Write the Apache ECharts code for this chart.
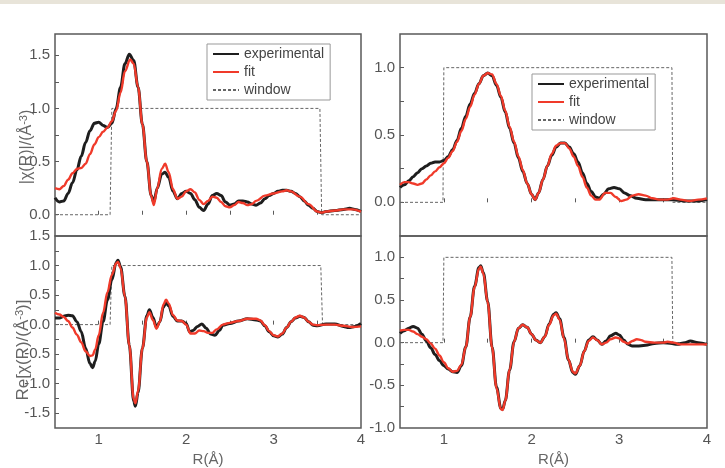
<!DOCTYPE html>
<html>
<head>
<meta charset="utf-8">
<script src="https://cdn.jsdelivr.net/npm/echarts@6/dist/echarts.min.js"></script>
<style>html,body{margin:0;padding:0;background:#fff;}#c{width:725px;height:468px;}</style>
</head>
<body>
<div id="c"></div>
<script>
// ---- Data (R in Å) ----
const xTickLabels = [1, 2, 3, 4];
const xTicks = [1, 1.5, 2, 2.5, 3, 3.5];
const legendNames = ['experimental', 'fit', 'window'];

// Top-left |χ(R)|
const tlExp = [[0.5,0.16],[0.55,0.12],[0.6,0.13],[0.65,0.2],[0.7,0.3],[0.75,0.42],[0.8,0.55],[0.85,0.68],[0.9,0.79],[0.95,0.86],[1.0,0.87],[1.05,0.84],[1.1,0.82],[1.15,0.86],[1.2,1.0],[1.25,1.2],[1.3,1.42],[1.35,1.51],[1.4,1.45],[1.45,1.2],[1.5,0.85],[1.55,0.5],[1.6,0.18],[1.63,0.12],[1.67,0.25],[1.72,0.38],[1.76,0.4],[1.8,0.35],[1.85,0.22],[1.9,0.15],[1.95,0.2],[2.0,0.22],[2.05,0.2],[2.1,0.14],[2.15,0.07],[2.2,0.04],[2.25,0.1],[2.3,0.18],[2.35,0.2],[2.4,0.18],[2.45,0.12],[2.5,0.09],[2.55,0.1],[2.6,0.13],[2.65,0.13],[2.7,0.12],[2.75,0.1],[2.8,0.09],[2.85,0.11],[2.9,0.15],[2.95,0.18],[3.0,0.2],[3.05,0.22],[3.1,0.23],[3.15,0.23],[3.2,0.22],[3.25,0.2],[3.3,0.17],[3.35,0.13],[3.4,0.09],[3.45,0.06],[3.5,0.03],[3.55,0.02],[3.6,0.03],[3.7,0.04],[3.8,0.05],[3.87,0.06],[3.93,0.05],[4.0,0.03]];
const tlFit = [[0.5,0.25],[0.55,0.24],[0.6,0.27],[0.65,0.33],[0.7,0.39],[0.75,0.43],[0.8,0.44],[0.85,0.48],[0.9,0.57],[0.95,0.66],[1.0,0.73],[1.05,0.78],[1.1,0.82],[1.15,0.88],[1.2,0.98],[1.25,1.15],[1.3,1.35],[1.36,1.46],[1.4,1.42],[1.45,1.2],[1.5,0.85],[1.55,0.5],[1.6,0.18],[1.63,0.09],[1.67,0.25],[1.72,0.43],[1.76,0.48],[1.8,0.4],[1.85,0.24],[1.9,0.15],[1.95,0.17],[2.0,0.22],[2.05,0.24],[2.1,0.21],[2.15,0.14],[2.2,0.1],[2.25,0.13],[2.3,0.17],[2.35,0.16],[2.4,0.12],[2.45,0.08],[2.5,0.07],[2.55,0.09],[2.6,0.12],[2.65,0.11],[2.7,0.09],[2.75,0.1],[2.8,0.13],[2.9,0.18],[3.0,0.2],[3.1,0.22],[3.15,0.23],[3.2,0.22],[3.3,0.17],[3.4,0.1],[3.5,0.03],[3.55,0.02],[3.6,0.03],[3.7,0.04],[3.8,0.05],[3.9,0.05],[4.0,0.03]];
const tlWin = [[0.5,0],[1.13,0],[1.15,1],[3.53,1],[3.55,0],[4.0,0]];

// Top-right |χ(R)|
const trExp = [[0.5,0.11],[0.55,0.13],[0.6,0.16],[0.65,0.19],[0.7,0.22],[0.75,0.25],[0.8,0.27],[0.85,0.29],[0.9,0.3],[0.95,0.3],[1.0,0.31],[1.05,0.34],[1.1,0.39],[1.15,0.46],[1.2,0.55],[1.25,0.64],[1.3,0.73],[1.35,0.81],[1.4,0.88],[1.45,0.94],[1.5,0.96],[1.55,0.94],[1.6,0.87],[1.65,0.78],[1.7,0.67],[1.75,0.55],[1.8,0.44],[1.85,0.33],[1.9,0.23],[1.95,0.14],[2.0,0.06],[2.04,0.02],[2.08,0.07],[2.13,0.17],[2.18,0.27],[2.23,0.35],[2.28,0.41],[2.33,0.44],[2.38,0.44],[2.43,0.41],[2.48,0.36],[2.53,0.3],[2.58,0.22],[2.63,0.14],[2.68,0.08],[2.73,0.04],[2.77,0.03],[2.82,0.06],[2.88,0.1],[2.94,0.11],[3.0,0.1],[3.06,0.07],[3.12,0.05],[3.2,0.03],[3.3,0.02],[3.45,0.02],[3.6,0.02],[3.75,0.01],[3.9,0.01],[4.0,0.02]];
const trFit = [[0.5,0.13],[0.55,0.15],[0.6,0.15],[0.65,0.14],[0.7,0.13],[0.75,0.14],[0.8,0.17],[0.85,0.2],[0.9,0.23],[0.95,0.26],[1.0,0.29],[1.05,0.33],[1.1,0.38],[1.15,0.45],[1.2,0.53],[1.25,0.62],[1.3,0.71],[1.35,0.8],[1.4,0.88],[1.45,0.94],[1.5,0.96],[1.55,0.95],[1.6,0.88],[1.65,0.79],[1.7,0.68],[1.75,0.56],[1.8,0.45],[1.85,0.34],[1.9,0.24],[1.95,0.14],[2.0,0.06],[2.04,0.02],[2.08,0.07],[2.13,0.17],[2.18,0.27],[2.23,0.36],[2.28,0.42],[2.33,0.44],[2.38,0.44],[2.43,0.4],[2.48,0.34],[2.53,0.27],[2.58,0.19],[2.63,0.11],[2.68,0.05],[2.73,0.02],[2.77,0.02],[2.84,0.07],[2.9,0.07],[2.96,0.04],[3.02,0.01],[3.08,0.02],[3.15,0.05],[3.22,0.06],[3.3,0.05],[3.38,0.03],[3.45,0.02],[3.55,0.02],[3.62,0.03],[3.7,0.02],[3.8,0.01],[3.9,0.02],[4.0,0.03]];
const trWin = [[0.5,0],[0.99,0],[1.0,1],[3.6,1],[3.61,0],[4.0,0]];

// Bottom-left Re[χ(R)]
const blExp = [[0.5,0.11],[0.55,0.11],[0.6,0.14],[0.65,0.16],[0.7,0.15],[0.75,0.05],[0.8,-0.12],[0.85,-0.4],[0.9,-0.66],[0.93,-0.73],[0.96,-0.62],[1.0,-0.33],[1.05,0.05],[1.1,0.42],[1.15,0.76],[1.2,1.05],[1.22,1.09],[1.25,0.98],[1.3,0.48],[1.35,-0.35],[1.4,-1.3],[1.42,-1.38],[1.45,-1.15],[1.5,-0.4],[1.55,0.15],[1.58,0.25],[1.62,0.12],[1.66,-0.04],[1.7,0.05],[1.74,0.3],[1.77,0.37],[1.8,0.32],[1.85,0.14],[1.9,0.06],[1.95,0.06],[2.0,0.02],[2.04,-0.12],[2.08,-0.1],[2.13,-0.03],[2.18,0.01],[2.23,-0.06],[2.28,-0.16],[2.33,-0.18],[2.38,-0.1],[2.42,-0.01],[2.5,0.02],[2.6,0.06],[2.7,0.1],[2.8,0.08],[2.85,0.06],[2.9,-0.02],[2.95,-0.12],[3.0,-0.19],[3.05,-0.21],[3.1,-0.16],[3.15,-0.05],[3.2,0.05],[3.25,0.11],[3.3,0.14],[3.35,0.12],[3.4,0.05],[3.45,-0.01],[3.5,-0.02],[3.6,0.01],[3.7,0.01],[3.8,-0.03],[3.86,-0.05],[3.93,-0.03],[4.0,0.02]];
const blFit = [[0.5,0.2],[0.55,0.17],[0.6,0.13],[0.65,0.06],[0.7,-0.05],[0.75,-0.17],[0.8,-0.3],[0.85,-0.45],[0.9,-0.53],[0.93,-0.52],[0.96,-0.42],[1.0,-0.18],[1.05,0.2],[1.1,0.55],[1.15,0.84],[1.2,1.04],[1.22,1.06],[1.25,0.96],[1.3,0.47],[1.35,-0.35],[1.4,-1.26],[1.42,-1.33],[1.45,-1.12],[1.5,-0.4],[1.55,0.12],[1.58,0.21],[1.62,0.08],[1.66,-0.07],[1.7,0.05],[1.74,0.34],[1.77,0.42],[1.8,0.36],[1.85,0.16],[1.9,0.07],[1.95,0.06],[2.0,0.0],[2.05,-0.15],[2.1,-0.15],[2.15,-0.1],[2.2,-0.11],[2.25,-0.14],[2.3,-0.14],[2.35,-0.08],[2.42,0.0],[2.5,0.03],[2.6,0.06],[2.7,0.1],[2.8,0.1],[2.85,0.07],[2.9,-0.01],[2.95,-0.11],[3.0,-0.18],[3.05,-0.2],[3.1,-0.15],[3.15,-0.05],[3.2,0.05],[3.25,0.12],[3.3,0.15],[3.35,0.12],[3.4,0.05],[3.45,0.0],[3.5,-0.01],[3.6,0.0],[3.7,0.0],[3.8,-0.02],[3.9,-0.04],[4.0,-0.03]];
const blWin = [[0.5,0],[1.13,0],[1.15,1],[3.54,1],[3.56,0],[4.0,0]];

// Bottom-right Re[χ(R)]
const brExp = [[0.5,0.11],[0.55,0.14],[0.6,0.17],[0.65,0.19],[0.7,0.17],[0.75,0.1],[0.8,0.02],[0.85,-0.06],[0.9,-0.14],[0.95,-0.21],[1.0,-0.27],[1.05,-0.31],[1.1,-0.34],[1.15,-0.35],[1.2,-0.27],[1.25,-0.05],[1.3,0.3],[1.35,0.66],[1.4,0.88],[1.42,0.9],[1.45,0.82],[1.5,0.48],[1.55,-0.05],[1.6,-0.52],[1.65,-0.77],[1.67,-0.78],[1.7,-0.68],[1.75,-0.32],[1.8,0.01],[1.85,0.17],[1.9,0.21],[1.95,0.18],[2.0,0.1],[2.05,0.03],[2.1,0.0],[2.15,0.07],[2.2,0.22],[2.25,0.33],[2.28,0.35],[2.32,0.28],[2.37,0.06],[2.42,-0.2],[2.47,-0.35],[2.5,-0.37],[2.55,-0.27],[2.6,-0.1],[2.65,0.03],[2.7,0.07],[2.75,0.03],[2.8,-0.02],[2.85,0.02],[2.9,0.08],[2.96,0.11],[3.0,0.09],[3.05,0.03],[3.1,-0.02],[3.15,-0.04],[3.2,-0.04],[3.3,-0.03],[3.4,-0.01],[3.5,0.0],[3.6,-0.01],[3.66,-0.02],[3.75,0.0],[3.81,0.02],[3.9,0.0],[4.0,-0.02]];
const brFit = [[0.5,0.14],[0.55,0.15],[0.6,0.15],[0.65,0.13],[0.7,0.1],[0.75,0.07],[0.8,0.04],[0.85,-0.01],[0.9,-0.07],[0.95,-0.15],[1.0,-0.23],[1.05,-0.3],[1.1,-0.34],[1.15,-0.33],[1.2,-0.26],[1.25,-0.05],[1.3,0.3],[1.35,0.65],[1.4,0.87],[1.42,0.89],[1.45,0.81],[1.5,0.47],[1.55,-0.06],[1.6,-0.53],[1.65,-0.78],[1.67,-0.79],[1.7,-0.68],[1.75,-0.32],[1.8,0.01],[1.85,0.17],[1.9,0.21],[1.95,0.18],[2.0,0.1],[2.05,0.03],[2.1,0.0],[2.15,0.07],[2.2,0.21],[2.25,0.32],[2.28,0.34],[2.32,0.27],[2.37,0.05],[2.42,-0.2],[2.47,-0.34],[2.5,-0.36],[2.55,-0.27],[2.6,-0.1],[2.65,0.02],[2.7,0.06],[2.75,0.03],[2.8,-0.02],[2.85,0.0],[2.9,0.04],[2.96,0.06],[3.0,0.05],[3.05,0.01],[3.1,-0.01],[3.15,0.02],[3.2,0.04],[3.25,0.03],[3.3,0.01],[3.4,0.0],[3.5,0.0],[3.55,0.01],[3.62,0.0],[3.7,-0.02],[3.8,-0.02],[3.9,-0.02],[4.0,-0.02]];
const brWin = [[0.5,0],[0.99,0],[1.0,1],[3.6,1],[3.61,0],[4.0,0]];

// Y-axis labels and ticks
const tlYLabels = [0, 0.5, 1.0, 1.5];
const trYLabels = [0, 0.5, 1.0];
const blYLabels = [-1.5, -1.0, -0.5, 0, 0.5, 1.0, 1.5];
const brYLabels = [-1.0, -0.5, 0, 0.5, 1.0];
const tlYTicks = [-0.25, 0, 0.25, 0.5, 0.75, 1.0, 1.25, 1.5];
const trYTicks = [0, 0.25, 0.5, 0.75, 1.0];
const blYTicks = [-1.5, -1.25, -1.0, -0.75, -0.5, -0.25, 0, 0.25, 0.5, 0.75, 1.0, 1.25];
const brYTicks = [-0.75, -0.5, -0.25, 0, 0.25, 0.5, 0.75, 1.0];

const axisColor = '#5a5a5a';
const labelColor = '#555';
const fontFam = 'Liberation Sans, Arial, sans-serif';

function xAxisDef(idx, showLabels) {
  return {
    type: 'value', gridIndex: idx, min: 0.5, max: 4,
    axisLine: { show: false },
    splitLine: { show: false },
    axisTick: { show: true, inside: true, length: 4, customValues: xTicks, lineStyle: { color: axisColor, width: 1 } },
    axisLabel: { show: showLabels, customValues: xTickLabels, margin: 4, fontSize: 15, color: labelColor, fontFamily: fontFam },
    name: showLabels ? 'R(Å)' : '', nameLocation: 'middle', nameGap: 24,
    nameTextStyle: { fontSize: 15, color: '#666', fontFamily: fontFam }
  };
}
function yAxisDef(idx, min, max, labels, ticks) {
  return {
    type: 'value', gridIndex: idx, min: min, max: max,
    axisLine: { show: false },
    splitLine: { show: false },
    axisTick: { show: true, inside: true, length: 4, customValues: ticks, lineStyle: { color: axisColor, width: 1 } },
    axisLabel: { customValues: labels, margin: 5, fontSize: 15, color: labelColor, fontFamily: fontFam,
      formatter: v => v.toFixed(1) }
  };
}
function trio(idx, exp, fit, win) {
  return [
    { name: 'window', type: 'line', xAxisIndex: idx, yAxisIndex: idx, data: win, symbol: 'none',
      lineStyle: { color: '#666', width: 1, type: [3, 2] }, itemStyle: { color: '#666' }, z: 1 },
    { name: 'experimental', type: 'line', xAxisIndex: idx, yAxisIndex: idx, data: exp, symbol: 'none',
      smooth: 0.35, smoothMonotone: 'x',
      lineStyle: { color: '#1e1e1e', width: 3 }, itemStyle: { color: '#1e1e1e' }, z: 2 },
    { name: 'fit', type: 'line', xAxisIndex: idx, yAxisIndex: idx, data: fit, symbol: 'none',
      smooth: 0.35, smoothMonotone: 'x',
      lineStyle: { color: '#f03a2a', width: 2.4 }, itemStyle: { color: '#f03a2a' }, z: 3 }
  ];
}

const gridBase = { show: true, borderColor: axisColor, borderWidth: 1.5, backgroundColor: 'transparent' };
const legendBase = {
  orient: 'vertical', data: legendNames, itemWidth: 26, itemHeight: 14, itemGap: 4,
  padding: [3, 6, 3, 5], borderColor: '#999', borderWidth: 1, backgroundColor: '#fff',
  itemStyle: { opacity: 0, borderWidth: 0 },
  textStyle: { fontSize: 14, color: '#444', fontFamily: fontFam }, selectedMode: false
};
const nameStyleRich = { sup: { fontSize: 11, verticalAlign: 'top', padding: [0, 0, 6, 0] } };

const chart = echarts.init(document.getElementById('c'), null, { renderer: 'canvas' });
chart.setOption({
  animation: false,
  backgroundColor: '#fff',
  graphic: [
    { type: 'rect', left: 0, top: 0, shape: { width: 725, height: 4 }, style: { fill: '#e8e4d9' }, z: 100 },
    { type: 'text', x: 27, y: 147, rotation: Math.PI / 2, z: 50,
      style: { text: '|χ(R)|/(Å{sup|-3})', rich: nameStyleRich, align: 'center', verticalAlign: 'middle',
        fontSize: 16, fill: '#666', fontFamily: fontFam } },
    { type: 'text', x: 23, y: 350, rotation: Math.PI / 2, z: 50,
      style: { text: 'Re[χ(R)/(Å{sup|-3})]', rich: nameStyleRich, align: 'center', verticalAlign: 'middle',
        fontSize: 17, fill: '#666', fontFamily: fontFam } }
  ],
  grid: [
    Object.assign({ left: 55, top: 34, width: 306, height: 202 }, gridBase),
    Object.assign({ left: 400, top: 34, width: 307, height: 202 }, gridBase),
    Object.assign({ left: 55, top: 236, width: 306, height: 203 }, gridBase),
    Object.assign({ left: 400, top: 236, width: 307, height: 202 }, gridBase)
  ],
  xAxis: [xAxisDef(0, false), xAxisDef(1, false), xAxisDef(2, true), xAxisDef(3, true)],
  yAxis: [
    yAxisDef(0, -0.2, 1.7, tlYLabels, tlYTicks),
    yAxisDef(1, -0.25, 1.25, trYLabels, trYTicks),
    yAxisDef(2, -1.75, 1.5, blYLabels, blYTicks),
    yAxisDef(3, -1.0, 1.25, brYLabels, brYTicks)
  ],
  legend: [
    Object.assign({ left: 207, top: 44 }, legendBase),
    Object.assign({ left: 532, top: 74 }, legendBase)
  ],
  series: [].concat(
    trio(0, tlExp, tlFit, tlWin),
    trio(1, trExp, trFit, trWin),
    trio(2, blExp, blFit, blWin),
    trio(3, brExp, brFit, brWin)
  )
});
</script>
</body>
</html>
